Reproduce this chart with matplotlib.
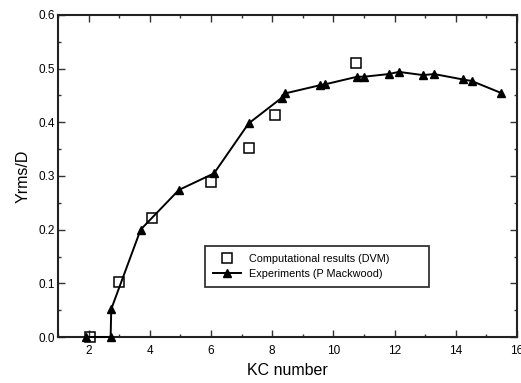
import matplotlib
matplotlib.use("Agg")
import matplotlib.pyplot as plt
from matplotlib.ticker import MultipleLocator, FormatStrFormatter

# Computational results (discrete vortex method)
kc_dvm = [2.03, 3.0, 4.06, 6.0, 7.23, 8.1, 10.74]
y_dvm = [0.0, 0.103, 0.221, 0.288, 0.353, 0.414, 0.511]

# Experimental measurements
kc_exp = [1.9, 2.72, 2.74, 3.7, 4.95, 6.1, 7.23, 8.32, 8.43, 9.55, 9.74,
          10.78, 11.0, 11.82, 12.14, 12.93, 13.29, 14.22, 14.52, 15.47]
y_exp = [0.0, 0.0, 0.052, 0.2, 0.274, 0.305, 0.398, 0.446, 0.454, 0.469, 0.471,
         0.485, 0.485, 0.49, 0.494, 0.488, 0.49, 0.48, 0.477, 0.455]

x_ticks = [2, 4, 6, 8, 10, 12, 14, 16]

plt.rcParams['font.family'] = ['Liberation Sans', 'DejaVu Sans']

fig = plt.figure(figsize=(5.21, 3.83), dpi=100)
ax = fig.add_axes([58 / 521, 46 / 383, 459 / 521, 322 / 383])

ax.plot(kc_exp, y_exp, color='black', lw=1.4, marker='^', ms=6,
        mfc='black', mec='black', label='Experiments (P Mackwood)',
        zorder=3, clip_on=False)
ax.plot(kc_dvm, y_dvm, ls='none', marker='s', ms=7.5, mfc='none', mec='black',
        mew=1.1, label='Computational results (DVM)', zorder=4, clip_on=False)

ax.set_xlim(1, 16)
ax.set_ylim(0, 0.6)
ax.set_xticks(x_ticks)
ax.xaxis.set_minor_locator(MultipleLocator(1))
ax.yaxis.set_major_locator(MultipleLocator(0.1))
ax.yaxis.set_minor_locator(MultipleLocator(0.05))
ax.yaxis.set_major_formatter(FormatStrFormatter('%.1f'))

ax.tick_params(which='both', direction='in', top=True, right=True,
               labelsize=8.5, width=1.0, color='#333333')
ax.tick_params(which='major', length=5)
ax.tick_params(which='minor', length=2.5)
ax.tick_params(axis='x', which='major', pad=6)
ax.tick_params(axis='y', which='major', pad=2)
for s in ax.spines.values():
    s.set_linewidth(1.5)
    s.set_color('#222222')

ax.set_xlabel('KC number', fontsize=11.5, labelpad=4)
ax.set_ylabel('Yrms/D', fontsize=11.5, labelpad=6)

handles, labels = ax.get_legend_handles_labels()
x0 = (205 - 58) / 459
y1 = (337 - 246) / 322
w = (429 - 205) / 459
h = (293 - 246) / 322
leg = ax.legend(handles[::-1], labels[::-1], loc='upper left',
                bbox_to_anchor=(x0, y1 - h, w, h), mode='expand',
                fontsize=7.8, frameon=True, fancybox=False, edgecolor='black',
                borderpad=0.7, handlelength=2.6, handletextpad=0.8,
                labelspacing=0.5, borderaxespad=0)
leg.get_frame().set_linewidth(1.3)

fig.savefig('out.png', dpi=100)
